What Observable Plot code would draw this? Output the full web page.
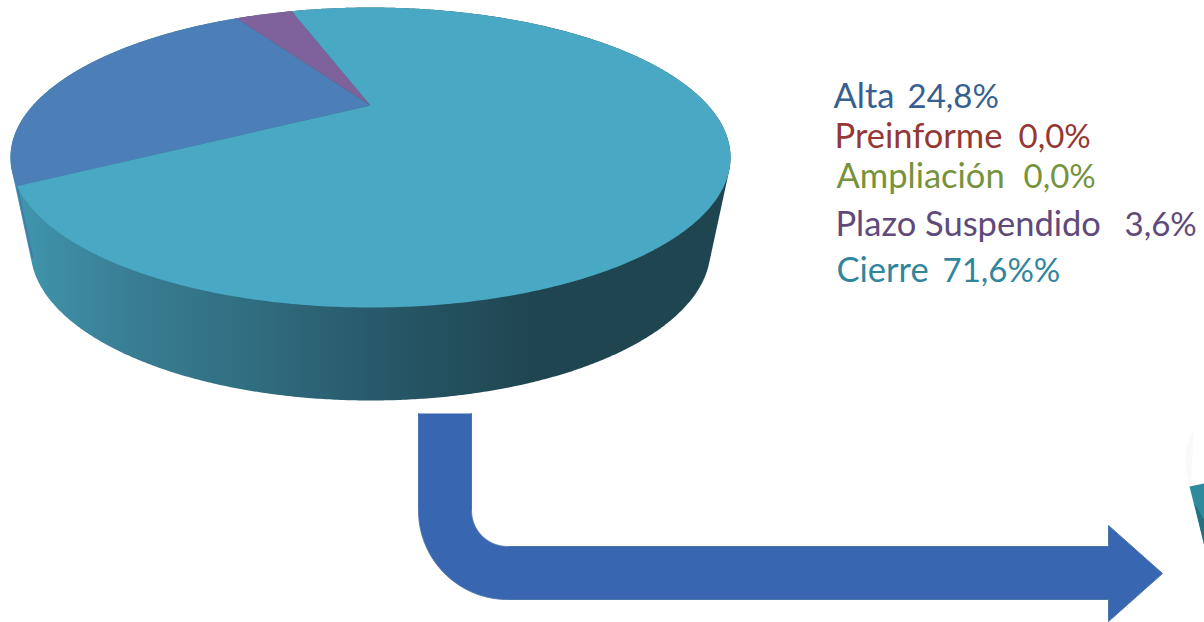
<!DOCTYPE html>
<html>
<head>
<meta charset="utf-8">
<style>
  html, body { margin: 0; padding: 0; background: #fff; }
  svg { display: block; }
</style>
<script src="https://cdn.jsdelivr.net/npm/d3@7"></script>
<script src="https://cdn.jsdelivr.net/npm/@observablehq/plot@0.6"></script>
</head>
<body>
<script>
// Case status shares, in clockwise drawing order
const categories = ["Alta", "Preinforme", "Ampliación", "Plazo Suspendido", "Cierre"];
const shares = [24.8, 0, 0, 3.6, 71.6];
const suffixes = ["%", "%", "%", "%", "%%"];
const sliceColors = ["#4c7fb8", "#a64d4b", "#8cab50", "#7f629c", "#49a8c3"];
const labelColors = ["#376092", "#953735", "#76923c", "#604a7b", "#31859c"];

// Where each legend row is set: name start, value start, baseline
const legendNameX = [833, 834, 836, 835, 836];
const legendValueX = [907, 1018, 1023, 1124, 942];
const legendBaseline = [107, 147, 187, 235, 281];

// Top face: an ellipse seen in perspective, so the pie centre sits above the ellipse centre
const top3d = {cx: 370, cy: 157, a: 337.7, b: 150, c: 52, k: 0.3467};
const base3d = {cx: 370, cy: 249, rx: 340, ry: 151};
const startDeg = 239.7;

const rad = (d) => (d * Math.PI) / 180;
const project = (u, v) => {
  const w = 1 + top3d.k * v;
  return {x: top3d.cx + (top3d.a * u) / w, y: top3d.cy - (top3d.b * v + top3d.c) / w};
};
const rimPoint = (t) => project(Math.sin(t), Math.cos(t));
const sampleAngles = (t0, t1) => {
  const n = Math.max(2, Math.ceil(Math.abs(t1 - t0) / rad(0.5)));
  return d3.range(n + 1).map((i) => t0 + ((t1 - t0) * i) / n);
};

const arcs = d3.pie().sort(null).startAngle(rad(startDeg)).endAngle(rad(startDeg) + 2 * Math.PI)(shares);
const slicePolygons = arcs
  .filter((a) => a.value > 0)
  .map((a) => ({
    color: sliceColors[a.index],
    points: [project(0, 0), ...sampleAngles(a.startAngle, a.endAngle).map(rimPoint)]
  }));

// Side wall: the outline around the top rim and the smaller rim underneath
const rimAll = sampleAngles(0, 2 * Math.PI).map(rimPoint);
const baseAll = sampleAngles(0, 2 * Math.PI).map((t) => ({
  x: base3d.cx + base3d.rx * Math.sin(t),
  y: base3d.cy - base3d.ry * Math.cos(t)
}));
const wall = d3.polygonHull([...rimAll, ...baseAll].map((p) => [p.x, p.y])).map(([x, y]) => ({x, y}));

// The back slice just shows along the left edge of the wall
const altaEdge = [rimPoint(arcs[0].startAngle), {x: base3d.cx - base3d.rx + 2, y: base3d.cy + 8}];

// Bent arrow leading away from the pie
const arrow = (() => {
  const left = 418, shaftW = 53, topY = 413, bend = 510, headX = 1108, tipX = 1162;
  const innerR = 36, outerR = innerR + shaftW;
  const cx = left + outerR, midY = 573;
  const quarter = (r) => sampleAngles(Math.PI, Math.PI / 2).map((t) => ({
    x: cx + r * Math.cos(t),
    y: bend + r * Math.sin(t)
  }));
  const bottomY = bend + outerR, upperY = bend + innerR;
  return [
    {x: left, y: topY},
    ...quarter(outerR),
    {x: headX, y: bottomY},
    {x: headX, y: midY + 48},
    {x: tipX, y: midY},
    {x: headX, y: midY - 48},
    {x: headX, y: upperY},
    ...quarter(innerR).reverse(),
    {x: left + shaftW, y: topY}
  ];
})();

// Start of the next pie, cut off by the page edge
const nextHalo = sampleAngles(rad(150), rad(235))
  .map((t) => ({x: 1250 + 65 * Math.cos(t), y: 460 - 65 * Math.sin(t)}))
  .filter((p) => p.y < 486);
const nextWedge = [{x: 1189, y: 486}, {x: 1204, y: 483}, {x: 1204, y: 546}];
const nextShade = [{x: 1194, y: 503}, {x: 1204, y: 520}, {x: 1204, y: 546}];

const legendRows = categories.map((name, i) => ({
  name,
  value: shares[i].toFixed(1).replace(".", ",") + suffixes[i],
  color: labelColors[i],
  nameX: legendNameX[i],
  valueX: legendValueX[i],
  y: legendBaseline[i]
}));

const gradientDefs = () => {
  const stops = [[0, "#3f96ad"], [0.16, "#397d93"], [0.33, "#306d80"], [0.5, "#28596a"], [0.72, "#1f4650"], [1, "#1f4650"]];
  const defs = d3.create("svg:defs");
  const g = defs.append("linearGradient").attr("id", "wallShade")
    .attr("gradientUnits", "userSpaceOnUse")
    .attr("x1", 17).attr("x2", 730).attr("y1", 0).attr("y2", 0);
  stops.forEach(([o, c]) => g.append("stop").attr("offset", o).attr("stop-color", c));
  return defs.node();
};

const shape = (points, fill) => Plot.line(points, {x: "x", y: "y", fill, stroke: "none", curve: "linear"});

const chart = Plot.plot({
  width: 1204,
  height: 622,
  margin: 0,
  x: {domain: [0, 1204], range: [0, 1204], axis: null},
  y: {domain: [0, 622], range: [0, 622], axis: null},
  style: {background: "#fff"},
  marks: [
    gradientDefs,
    shape(wall, "url(#wallShade)"),
    Plot.line(altaEdge, {x: "x", y: "y", stroke: "#4a6fb0", strokeWidth: 1.2}),
    ...slicePolygons.map((s) => shape(s.points, s.color)),
    Plot.line(arrow, {x: "x", y: "y", fill: "#3966b1", stroke: "#4a76a8", strokeWidth: 1, curve: "linear"}),
    shape(nextHalo, "#fafafa"),
    shape(nextWedge, "#2f8a9e"),
    shape(nextShade, "#26707f"),
    Plot.text(legendRows, {x: "nameX", y: "y", text: "name", fill: "color", textAnchor: "start", lineAnchor: "bottom", fontFamily: "Lato", fontSize: 34.5}),
    Plot.text(legendRows, {x: "valueX", y: "y", text: "value", fill: "color", textAnchor: "start", lineAnchor: "bottom", fontFamily: "Lato", fontSize: 33})
  ]
});
document.body.appendChild(chart);
</script>
</body>
</html>
